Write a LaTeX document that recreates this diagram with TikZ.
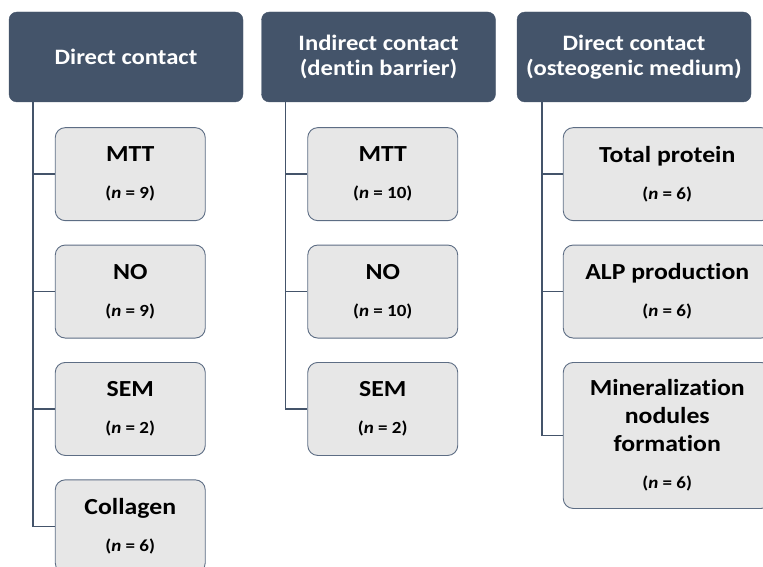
\documentclass[tikz,border=0pt]{standalone}
\usepackage{fontspec}
\setmainfont{Carlito}[FakeStretch=1.12, Ligatures={NoCommon}]
\usepackage{xcolor}
\usepackage{tikz}
\usetikzlibrary{positioning}

\definecolor{slate}{HTML}{44546A}
\definecolor{boxgray}{HTML}{E7E7E7}
\definecolor{boxline}{HTML}{5D6D84}

\newcommand{\nsize}{\fontsize{17}{19}\selectfont}
\newcommand{\ncount}[1]{\\[9pt]{\nsize(\textit{n} = #1)}}

\begin{document}
\begin{tikzpicture}[
  node distance=23.5pt,
  head/.style={draw=slate, fill=slate, rounded corners=8pt,
               minimum width=234pt, minimum height=90pt,
               align=center, text=white, inner sep=2pt,
               font=\bfseries\fontsize{22}{25}\selectfont},
  item/.style={draw=boxline, fill=boxgray, rounded corners=10pt, line width=0.9pt,
               minimum width=#1, minimum height=93pt,
               align=center, text=black, inner sep=2pt,
               font=\bfseries\fontsize{23}{28}\selectfont},
  item/.default=150pt,
  link/.style={draw=slate, line width=1.4pt},
]
\useasboundingbox (0,0) rectangle (763pt,-567pt);
\clip (0,0) rectangle (763pt,-567pt);

%% --- column headers ---------------------------------------------------------
\node[head] (dc)  at (126pt,-57pt)   {Direct contact};
\node[head] (ic)  at (378.5pt,-57pt) {Indirect contact\\(dentin barrier)};
\node[head] (om)  at (634pt,-57pt)   {Direct contact\\(osteogenic medium)};

%% --- direct contact ---------------------------------------------------------
\node[item, below=25pt of dc.south west, anchor=north west, xshift=46pt] (dcmtt)
  {MTT\ncount{9}};
\node[item, below=of dcmtt] (dcno)  {NO\ncount{9}};
\node[item, below=of dcno]  (dcsem) {SEM\ncount{2}};
\node[item, below=of dcsem] (dccol) {Collagen\ncount{6}};

\foreach \n in {dcmtt,dcno,dcsem,dccol}
  \draw[link] ([xshift=24pt]dc.south west) |- (\n.west);

%% --- indirect contact -------------------------------------------------------
\node[item, below=25pt of ic.south west, anchor=north west, xshift=46pt] (icmtt)
  {MTT\ncount{10}};
\node[item, below=of icmtt] (icno)  {NO\ncount{10}};
\node[item, below=of icno]  (icsem) {SEM\ncount{2}};

\foreach \n in {icmtt,icno,icsem}
  \draw[link] ([xshift=24pt]ic.south west) |- (\n.west);

%% --- osteogenic medium ------------------------------------------------------
\node[item=208pt, below=25pt of om.south west, anchor=north west, xshift=46pt] (omtp)
  {Total protein\ncount{6}};
\node[item=208pt, below=of omtp] (omalp) {ALP production\ncount{6}};
\node[item=208pt, below=of omalp, minimum height=146pt] (ommin)
  {Mineralization\\nodules\\formation\ncount{6}};

\foreach \n in {omtp,omalp,ommin}
  \draw[link] ([xshift=25pt]om.south west) |- (\n.west);

\end{tikzpicture}
\end{document}
